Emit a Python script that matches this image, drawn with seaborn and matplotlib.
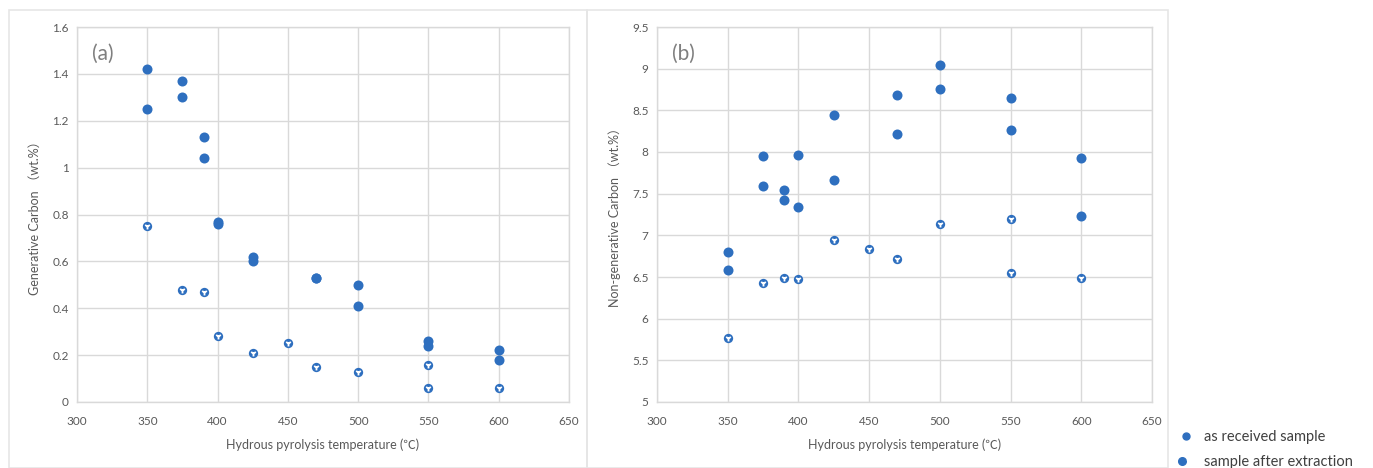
import matplotlib
matplotlib.use("Agg")
import matplotlib.pyplot as plt
from matplotlib.patches import Rectangle
from matplotlib.lines import Line2D
from matplotlib.legend_handler import HandlerTuple
import seaborn as sns
import pandas as pd

## data
# (a) generative carbon
gen_recv_t = [350, 350, 375, 375, 390, 390, 400, 400, 425, 425, 470, 470, 500, 500, 550, 550, 600, 600]
gen_recv_v = [1.42, 1.25, 1.37, 1.30, 1.13, 1.04, 0.77, 0.76, 0.62, 0.60, 0.53, 0.53, 0.50, 0.41, 0.26, 0.24, 0.22, 0.18]
gen_extr_t = [350, 375, 390, 400, 425, 450, 470, 500, 550, 550, 600]
gen_extr_v = [0.75, 0.48, 0.47, 0.28, 0.21, 0.25, 0.15, 0.13, 0.16, 0.06, 0.06]

# (b) non-generative carbon
ngc_recv_t = [350, 350, 375, 375, 390, 390, 400, 400, 425, 425, 470, 470, 500, 500, 550, 550, 600, 600]
ngc_recv_v = [6.80, 6.58, 7.95, 7.59, 7.55, 7.43, 7.97, 7.34, 8.45, 7.66, 8.68, 8.21, 9.05, 8.76, 8.65, 8.27, 7.93, 7.23]
ngc_extr_t = [350, 375, 390, 400, 425, 450, 470, 500, 550, 550, 600]
ngc_extr_v = [5.77, 6.43, 6.49, 6.48, 6.94, 6.84, 6.72, 7.14, 7.20, 6.55, 6.49]

labels = ["as received sample", "sample after extraction"]
xlabel = "Hydrous pyrolysis temperature (\u2103)"
ylabels = ["Generative Carbon \uff08wt.%\uff09", "Non-generative Carbon \uff08wt.%\uff09"]
panel_tags = ["(a)", "(b)"]

blue = "#2e6fbf"
grid = "#d9d9d9"
txt = "#595959"

sns.set_style("white")
plt.rcParams["font.family"] = ["Lato", "Noto Sans CJK SC", "DejaVu Sans"]

fig = plt.figure(figsize=(13.73, 4.68), dpi=100)
W, H = 1373, 468

def px_axes(x0, y0, x1, y1):
    return fig.add_axes([x0 / W, 1 - y1 / H, (x1 - x0) / W, (y1 - y0) / H])

# panel frames
for x0, x1 in [(9, 587), (587, 1168)]:
    fig.patches.append(Rectangle((x0 / W, 0), (x1 - x0) / W, 1 - 10 / H,
                                 transform=fig.transFigure, fill=False,
                                 edgecolor="#e6e6e6", linewidth=1.2))

ax1 = px_axes(77, 27, 569, 402)
ax2 = px_axes(657, 27, 1152, 402)

sets = [
    (ax1, gen_recv_t, gen_recv_v, gen_extr_t, gen_extr_v, (0, 1.6), [0, 0.2, 0.4, 0.6, 0.8, 1, 1.2, 1.4, 1.6]),
    (ax2, ngc_recv_t, ngc_recv_v, ngc_extr_t, ngc_extr_v, (5, 9.5), [5, 5.5, 6, 6.5, 7, 7.5, 8, 8.5, 9, 9.5]),
]

for i, (ax, rt, rv, et, ev, ylim, yticks) in enumerate(sets):
    recv = pd.DataFrame({"t": rt, "v": rv})
    extr = pd.DataFrame({"t": et, "v": ev})
    sns.scatterplot(data=recv, x="t", y="v", ax=ax, color=blue, s=52, edgecolor=blue, linewidth=0, zorder=3)
    sns.scatterplot(data=extr, x="t", y="v", ax=ax, color=blue, s=45, edgecolor=blue, linewidth=0, zorder=3)
    sns.scatterplot(data=extr, x="t", y="v", ax=ax, color="white", marker="1", s=18, linewidth=1.3, zorder=4)

    ax.set_xlim(300, 650)
    ax.set_xticks(range(300, 651, 50))
    ax.set_ylim(*ylim)
    ax.set_yticks(yticks)
    ax.set_yticklabels([("%g" % y) for y in yticks])
    ax.grid(True, color=grid, linewidth=1)
    ax.set_axisbelow(True)
    for s in ax.spines.values():
        s.set_color(grid)
        s.set_linewidth(1)
    ax.tick_params(axis="x", length=0, labelsize=8.5, labelcolor=txt, pad=10)
    ax.tick_params(axis="y", length=0, labelsize=8.5, labelcolor=txt, pad=6)
    ax.set_xlabel(xlabel, fontsize=9, color=txt, labelpad=8)
    ax.set_ylabel(ylabels[i], fontsize=9, color=txt, labelpad=8)
    ax.text(0.03, 0.955, panel_tags[i], transform=ax.transAxes, fontsize=15,
            color="#7f7f7f", va="top", ha="left")

h_recv = Line2D([], [], marker="o", linestyle="", color=blue, markersize=5)
h_extr = (Line2D([], [], marker="o", linestyle="", color=blue, markersize=5.5),
          Line2D([], [], marker="1", linestyle="", color="white", markersize=4, markeredgewidth=1.1))
fig.legend([h_recv, h_extr], labels, loc="upper left", bbox_to_anchor=(1168 / W, 1 - 420 / H),
           frameon=False, fontsize=10.5, labelcolor="#404040", handletextpad=0.8,
           labelspacing=0.75, handlelength=1.0, borderpad=0.2,
           handler_map={tuple: HandlerTuple(ndivide=None, pad=0)})

fig.savefig("out.png", dpi=100)
